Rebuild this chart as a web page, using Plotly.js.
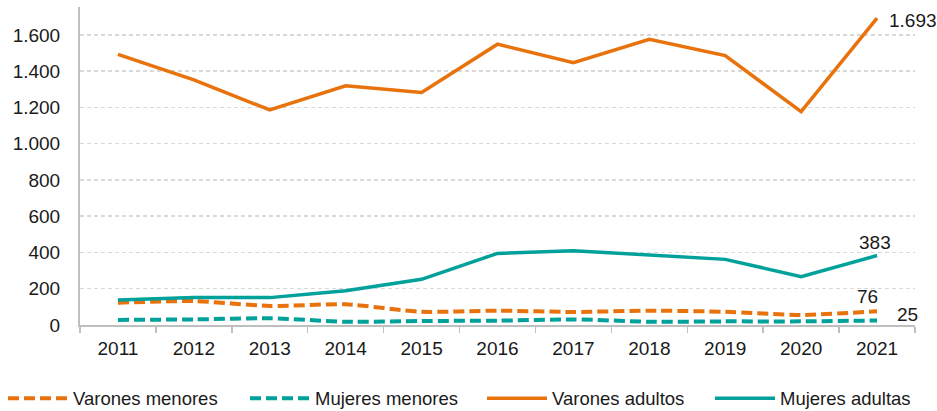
<!DOCTYPE html>
<html>
<head>
<meta charset="utf-8">
<script src="https://cdn.plot.ly/plotly-3.0.1.min.js"></script>
<style>html,body{margin:0;padding:0;background:#fff;}#chart{width:937px;height:411px;}</style>
</head>
<body>
<div id="chart"></div>
<script>
const years = ['2011','2012','2013','2014','2015','2016','2017','2018','2019','2020','2021'];
const varonesMenores = [123, 132, 105, 114, 73, 79, 72, 79, 73, 55, 76];
const mujeresMenores = [28, 31, 37, 18, 22, 24, 31, 18, 20, 20, 25];
const varonesAdultos = [1493, 1352, 1186, 1319, 1282, 1549, 1447, 1576, 1486, 1177, 1693];
const mujeresAdultas = [138, 151, 151, 189, 252, 395, 410, 386, 362, 267, 383];
const yTicks = [0, 200, 400, 600, 800, 1000, 1200, 1400, 1600];

const orange = '#E8720C';
const teal = '#00A19A';
const fmt = v => v.toString().replace(/\B(?=(\d{3})+(?!\d))/g, '.');
const labelFont = {family: 'Liberation Sans, Arial, sans-serif', size: 19, color: '#1a1a1a'};
const legendFont = {family: 'Liberation Sans, Arial, sans-serif', size: 18.5, color: '#1a1a1a'};

const traces = [
  {name: 'Varones menores', legend: 'legend', x: years, y: varonesMenores, mode: 'lines', line: {color: orange, width: 4, dash: '11px,5px', shape: 'spline', smoothing: 0.6}},
  {name: 'Mujeres menores', legend: 'legend2', x: years, y: mujeresMenores, mode: 'lines', line: {color: teal, width: 4, dash: '11px,5px', shape: 'spline', smoothing: 0.6}},
  {name: 'Varones adultos', legend: 'legend3', x: years, y: varonesAdultos, mode: 'lines', line: {color: orange, width: 3.5}},
  {name: 'Mujeres adultas', legend: 'legend4', x: years, y: mujeresAdultas, mode: 'lines', line: {color: teal, width: 3.5}}
];

const last = years.length - 1;
const annotations = [
  {y: varonesAdultos[last], text: fmt(varonesAdultos[last]), xanchor: 'left', yanchor: 'middle', xshift: 10, yshift: -2},
  {y: mujeresAdultas[last], text: fmt(mujeresAdultas[last]), xanchor: 'center', yanchor: 'bottom', xshift: -2, yshift: 1},
  {y: varonesMenores[last], text: fmt(varonesMenores[last]), xanchor: 'center', yanchor: 'bottom', xshift: -10, yshift: 2},
  {y: mujeresMenores[last], text: fmt(mujeresMenores[last]), xanchor: 'left', yanchor: 'middle', xshift: 18, yshift: 6}
].map(a => Object.assign({x: last, showarrow: false, font: labelFont}, a));

const legendBase = {orientation: 'h', xref: 'container', yref: 'container', xanchor: 'left', y: 0.03, yanchor: 'middle', itemwidth: 60, font: legendFont, bgcolor: 'rgba(0,0,0,0)'};
const legendStarts = [3, 245, 482, 710];

const layout = {
  width: 937, height: 411,
  margin: {l: 80, r: 22, t: 7, b: 86},
  paper_bgcolor: '#fff', plot_bgcolor: '#fff',
  font: labelFont,
  separators: ',.',
  showlegend: true,
  annotations: annotations,
  legend: Object.assign({x: legendStarts[0] / 937}, legendBase),
  legend2: Object.assign({x: legendStarts[1] / 937}, legendBase),
  legend3: Object.assign({x: legendStarts[2] / 937}, legendBase),
  legend4: Object.assign({x: legendStarts[3] / 937}, legendBase),
  xaxis: {
    type: 'category', range: [-0.5, last + 0.5], autorange: false, showgrid: false, showline: true, linecolor: '#BFBFBF', linewidth: 2,
    ticks: 'outside', tickson: 'boundaries', ticklen: 6, tickcolor: '#BFBFBF', tickwidth: 1.5,
    ticklabelstandoff: 5, tickfont: labelFont, zeroline: false, fixedrange: true
  },
  yaxis: {
    range: [0, 1754], tickmode: 'array', tickvals: yTicks, ticktext: yTicks.map(fmt),
    showgrid: true, gridcolor: '#D9D9D9', griddash: '4px,3px', gridwidth: 1.5,
    showline: true, linecolor: '#BFBFBF', linewidth: 2, zeroline: false,
    ticks: '', ticklabelstandoff: 14, tickfont: labelFont, fixedrange: true
  }
};

Plotly.newPlot('chart', traces, layout, {displayModeBar: false, staticPlot: true});
</script>
</body>
</html>
